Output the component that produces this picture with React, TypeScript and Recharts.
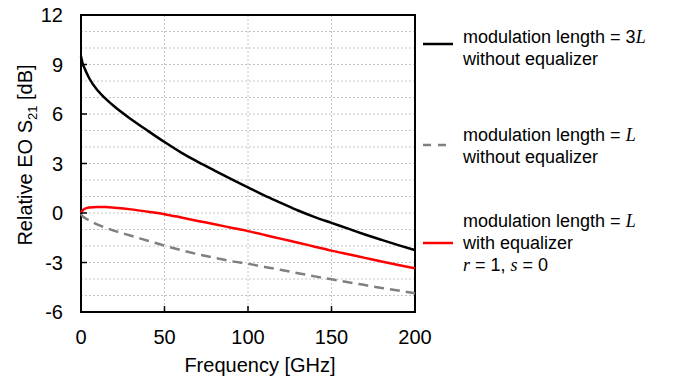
import React from "react";
import {
  LineChart,
  Line,
  XAxis,
  YAxis,
  CartesianGrid,
  ReferenceArea,
} from "recharts";

// frequency grid (GHz) and the three responses (dB)
const freq = [0, 1, 2, 5, 10, 15, 20, 30, 40, 50, 60, 70, 80, 90, 100, 110, 120, 130, 140, 150, 160, 170, 180, 190, 200];
const len3L = [9.5, 9.05, 8.8, 8.15, 7.42, 6.9, 6.45, 5.68, 4.98, 4.3, 3.66, 3.1, 2.57, 2.05, 1.55, 1.05, 0.6, 0.15, -0.25, -0.6, -0.95, -1.3, -1.63, -1.95, -2.25];
const lenL = [-0.05, -0.2, -0.28, -0.45, -0.7, -0.9, -1.08, -1.38, -1.68, -1.98, -2.25, -2.5, -2.72, -2.92, -3.08, -3.27, -3.45, -3.65, -3.84, -4.02, -4.2, -4.37, -4.54, -4.7, -4.87];
const lenLEq = [0, 0.16, 0.24, 0.33, 0.37, 0.36, 0.32, 0.22, 0.08, -0.07, -0.27, -0.48, -0.68, -0.89, -1.1, -1.33, -1.57, -1.8, -2.04, -2.28, -2.5, -2.72, -2.94, -3.15, -3.35];

const xTicks = [0, 50, 100, 150, 200];
const yTicks = [-6, -3, 0, 3, 6, 9, 12];
const yGrid = [-5, -4, -3, -2, -1, 0, 1, 2, 3, 4, 5, 6, 7, 8, 9, 10, 11];
const xGrid = [50, 100, 150];

const data = freq.map((f, i) => ({
  f,
  a: len3L[i],
  b: lenL[i],
  c: lenLEq[i],
}));

const FONT = "'Liberation Sans', Arial, sans-serif";
const SERIF = "'Liberation Serif', 'Times New Roman', serif";

const YTick = ({ x, y, payload }: any) => (
  <g>
    {payload.value !== 12 && payload.value !== -6 && (
      <line x1={x} x2={x + 6} y1={y} y2={y} stroke="#000" strokeWidth={1.5} />
    )}
    <text x={x - 18} y={y} dy={7} textAnchor="end" fontSize={20} fontFamily={FONT} fill="#000">
      {payload.value}
    </text>
  </g>
);

const XTick = ({ x, y, payload }: any) => (
  <g>
    {payload.value !== 0 && payload.value !== 200 && (
      <line x1={x} x2={x} y1={y} y2={y - 6} stroke="#000" strokeWidth={1.5} />
    )}
    <text x={x} y={y + 32} textAnchor="middle" fontSize={20} fontFamily={FONT} fill="#000">
      {payload.value}
    </text>
  </g>
);

const Ital = ({ children }: { children: React.ReactNode }) => (
  <tspan fontFamily={SERIF} fontStyle="italic">
    {children}
  </tspan>
);

function LegendOverlay() {
  const tx = 463;
  return (
    <svg
      width={674}
      height={381}
      style={{ position: "absolute", left: 0, top: 0, pointerEvents: "none" }}
    >
      <g fontFamily={FONT} fontSize={18} fill="#000">
        <line x1={423} x2={453} y1={44} y2={44} stroke="#000" strokeWidth={2.5} />
        <text x={tx} y={43}>
          modulation length = 3<Ital>L</Ital>
        </text>
        <text x={tx} y={65}>without equalizer</text>

        <line x1={423} x2={453} y1={145} y2={145} stroke="#808080" strokeWidth={2.5} strokeDasharray="8 7" />
        <text x={tx} y={141}>
          modulation length = <Ital>L</Ital>
        </text>
        <text x={tx} y={163}>without equalizer</text>

        <line x1={423} x2={453} y1={243} y2={243} stroke="#ff0000" strokeWidth={2.5} />
        <text x={tx} y={227}>
          modulation length = <Ital>L</Ital>
        </text>
        <text x={tx} y={249}>with equalizer</text>
        <text x={tx} y={271}>
          <Ital>r</Ital> = 1, <Ital>s</Ital> = 0
        </text>
      </g>
      <g fontFamily={FONT} fontSize={20} fill="#000">
        <text x={260} y={372} textAnchor="middle">
          Frequency [GHz]
        </text>
        <text transform="translate(32,155) rotate(-90)" textAnchor="middle">
          Relative EO S
          <tspan fontSize={13} dy={5}>21</tspan>
          <tspan dy={-5}> [dB]</tspan>
        </text>
      </g>
    </svg>
  );
}

export default function App() {
  return (
    <div style={{ position: "absolute", left: 0, top: 0, width: 674, height: 381, background: "#fff" }}>
      <LineChart
        width={674}
        height={381}
        data={data}
        margin={{ top: 15, right: 259, bottom: 39, left: 21 }}
      >
        <CartesianGrid
          horizontalValues={yGrid}
          verticalValues={xGrid}
          stroke="#c4c4c4"
          strokeDasharray="2 2"
        />
        <XAxis
          dataKey="f"
          type="number"
          domain={[0, 200]}
          ticks={xTicks}
          height={30}
          tickSize={0}
          tickMargin={0}
          tickLine={false}
          axisLine={false}
          tick={<XTick />}
          interval={0}
        />
        <YAxis
          type="number"
          domain={[-6, 12]}
          ticks={yTicks}
          width={60}
          tickSize={0}
          tickMargin={0}
          tickLine={false}
          axisLine={false}
          tick={<YTick />}
          interval={0}
        />
        <Line
          type="monotone"
          dataKey="b"
          stroke="#808080"
          strokeWidth={2.5}
          strokeDasharray="10 6"
          dot={false}
          isAnimationActive={false}
        />
        <Line
          type="monotone"
          dataKey="c"
          stroke="#ff0000"
          strokeWidth={2.5}
          dot={false}
          isAnimationActive={false}
        />
        <Line
          type="monotone"
          dataKey="a"
          stroke="#000"
          strokeWidth={2.5}
          dot={false}
          isAnimationActive={false}
        />
        <ReferenceArea
          x1={0}
          x2={200}
          y1={-6}
          y2={12}
          fill="none"
          fillOpacity={0}
          stroke="#000"
          strokeWidth={2}
          ifOverflow="visible"
        />
      </LineChart>
      <LegendOverlay />
    </div>
  );
}
